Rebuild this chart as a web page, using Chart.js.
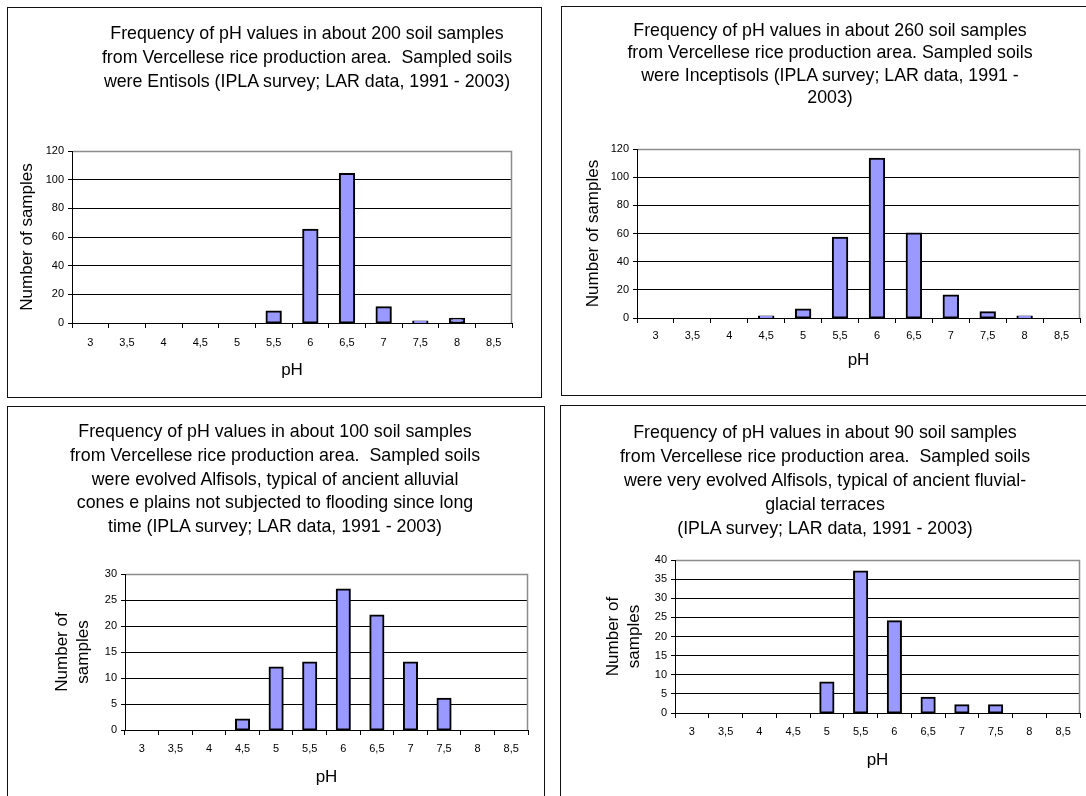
<!DOCTYPE html>
<html>
<head>
<meta charset="utf-8">
<title>Soil pH frequency - Vercellese</title>
<script src="https://cdn.jsdelivr.net/npm/chart.js@4.4.1/dist/chart.umd.min.js"></script>
<style>
  html, body { margin: 0; padding: 0; background: #fff; }
  body { width: 1086px; height: 796px; position: relative; overflow: hidden; font-family: "Liberation Sans", Arial, sans-serif; }
  .frame { position: absolute; border: 1px solid #111; box-sizing: border-box; }
  .title { position: absolute; width: 600px; text-align: center; white-space: pre; font-size: 17.8px; color: #000; }
  canvas { position: absolute; }
</style>
</head>
<body>
<script>
// pH classes on the x axis
const phLabels = ['3', '3,5', '4', '4,5', '5', '5,5', '6', '6,5', '7', '7,5', '8', '8,5'];

// number of samples per pH class
const entisols = [0, 0, 0, 0, 0, 8, 65, 104, 11, 1, 3, 0];
const inceptisols = [0, 0, 0, 1, 6, 57, 113, 60, 16, 4, 1, 0];
const evolvedAlfisols = [0, 0, 0, 2, 12, 13, 27, 22, 13, 6, 0, 0];
const veryEvolvedAlfisols = [0, 0, 0, 0, 8, 37, 24, 4, 2, 2, 0, 0];

const entisolsTitle = [
    'Frequency of pH values in about 200 soil samples',
    'from Vercellese rice production area.  Sampled soils',
    'were Entisols (IPLA survey; LAR data, 1991 - 2003)'
];
const inceptisolsTitle = [
    'Frequency of pH values in about 260 soil samples',
    'from Vercellese rice production area. Sampled soils',
    'were Inceptisols (IPLA survey; LAR data, 1991 -',
    '2003)'
];
const evolvedAlfisolsTitle = [
    'Frequency of pH values in about 100 soil samples',
    'from Vercellese rice production area.  Sampled soils',
    'were evolved Alfisols, typical of ancient alluvial',
    'cones e plains not subjected to flooding since long',
    'time (IPLA survey; LAR data, 1991 - 2003)'
];
const veryEvolvedAlfisolsTitle = [
    'Frequency of pH values in about 90 soil samples',
    'from Vercellese rice production area.  Sampled soils',
    'were very evolved Alfisols, typical of ancient fluvial-',
    'glacial terraces',
    '(IPLA survey; LAR data, 1991 - 2003)'
];

const FONT = '"Liberation Sans", Arial, sans-serif';
const PAGE_W = 1086, PAGE_H = 796;

// gray top and right edges of the plot area
const plotFrame = {
    id: 'plotFrame',
    beforeDatasetsDraw(chart) {
        const { ctx, chartArea: a } = chart;
        ctx.save();
        ctx.strokeStyle = '#8c8c8c';
        ctx.lineWidth = 1.5;
        ctx.beginPath();
        ctx.moveTo(a.left + 1, a.top + 0.5);
        ctx.lineTo(a.right - 0.5, a.top + 0.5);
        ctx.lineTo(a.right - 0.5, a.bottom);
        ctx.stroke();
        ctx.restore();
    }
};

const panels = [
    { box: [7, 7, 542, 398], plot: [72, 151, 512, 323], yTitleX: 27, xTitleY: 370, tickPad: 8,
      titleX: 307, titleY: 33, titleLh: 24, title: entisolsTitle,
      data: entisols, yMax: 120, yStep: 20, yTitle: 'Number of samples' },
    { box: [561, 6, 1095, 396], plot: [637, 149, 1080, 318], yTitleX: 593, xTitleY: 360, tickPad: 6,
      titleX: 830, titleY: 30, titleLh: 22.4, title: inceptisolsTitle,
      data: inceptisols, yMax: 120, yStep: 20, yTitle: 'Number of samples' },
    { box: [7, 406, 545, 805], plot: [125, 574, 528, 730], yTitleX: 62, xTitleY: 777, tickPad: 7,
      titleX: 275, titleY: 432, titleLh: 23.8, title: evolvedAlfisolsTitle,
      data: evolvedAlfisols, yMax: 30, yStep: 5, yTitle: ['Number of', 'samples'] },
    { box: [560, 405, 1095, 805], plot: [675, 560, 1080, 713], yTitleX: 613, xTitleY: 760, tickPad: 7,
      titleX: 825, titleY: 432, titleLh: 24, title: veryEvolvedAlfisolsTitle,
      data: veryEvolvedAlfisols, yMax: 40, yStep: 5, yTitle: ['Number of', 'samples'] }
];

function drawPanel(p) {
    const [bl, bt, br, bb] = p.box;

    const frame = document.createElement('div');
    frame.className = 'frame';
    frame.style.left = bl + 'px';
    frame.style.top = bt + 'px';
    frame.style.width = (br - bl) + 'px';
    frame.style.height = (bb - bt) + 'px';
    document.body.appendChild(frame);

    const cl = bl, ct = bt;
    const cw = Math.min(br, PAGE_W) - bl;
    const ch = Math.min(bb, PAGE_H) - bt;
    const canvas = document.createElement('canvas');
    canvas.width = cw;
    canvas.height = ch;
    canvas.style.left = cl + 'px';
    canvas.style.top = ct + 'px';
    canvas.style.width = cw + 'px';
    canvas.style.height = ch + 'px';
    document.body.appendChild(canvas);

    const title = document.createElement('div');
    title.className = 'title';
    title.style.left = (p.titleX - 300) + 'px';
    title.style.top = (p.titleY - p.titleLh / 2) + 'px';
    title.style.lineHeight = p.titleLh + 'px';
    title.textContent = p.title.join('\n');
    document.body.appendChild(title);

    const [L, T, R, B] = p.plot;
    const axisFont = { family: FONT, size: 17, lineHeight: 1.25 };
    const lh = 17 * 1.25;
    const tickFont = { family: FONT, size: 11 };

    new Chart(canvas, {
        type: 'bar',
        data: {
            labels: phLabels,
            datasets: [{
                // empty classes get no bar at all
                data: p.data.map(v => (v === 0 ? null : v)),
                backgroundColor: '#9999ff',
                borderColor: '#000',
                borderWidth: 2,
                borderSkipped: false,
                inflateAmount: 1,
                barPercentage: 0.39,
                categoryPercentage: 1
            }]
        },
        options: {
            responsive: false,
            animation: false,
            devicePixelRatio: 1,
            layout: { padding: { left: 0, top: T - ct, right: cl + cw - R, bottom: 0 } },
            plugins: { legend: { display: false }, tooltip: { enabled: false } },
            scales: {
                x: {
                    afterFit: s => { s.height = ct + ch - B; },
                    grid: { offset: true, drawOnChartArea: false, color: '#000', tickLength: 5 },
                    border: { color: '#000', width: 1 },
                    ticks: { color: '#000', font: tickFont, padding: p.tickPad, maxRotation: 0, autoSkip: false },
                    title: {
                        display: true, text: 'pH', color: '#000', font: axisFont,
                        padding: { top: 0, bottom: ct + ch - p.xTitleY - lh / 2 }
                    }
                },
                y: {
                    min: 0,
                    max: p.yMax,
                    afterFit: s => { s.width = L - cl; },
                    grid: { color: '#000', tickLength: 4 },
                    border: { color: '#000', width: 1 },
                    ticks: { stepSize: p.yStep, color: '#000', font: tickFont, padding: 4 },
                    title: {
                        display: true, text: p.yTitle, color: '#000', font: axisFont,
                        padding: { top: p.yTitleX - cl - lh / 2, bottom: 0 }
                    }
                }
            }
        },
        plugins: [plotFrame]
    });
}

panels.forEach(drawPanel);
</script>
</body>
</html>
